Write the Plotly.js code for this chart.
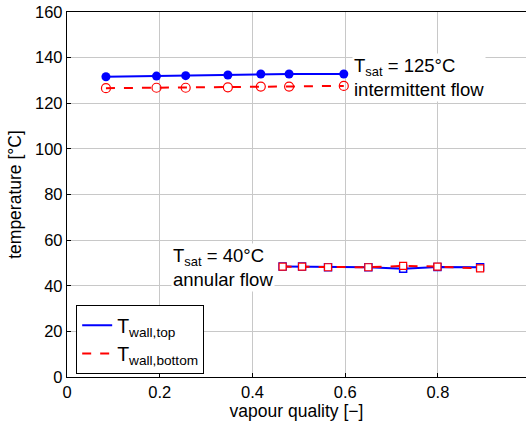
<!DOCTYPE html>
<html>
<head>
<meta charset="utf-8">
<script src="https://cdn.plot.ly/plotly-3.0.1.min.js"></script>
<style>html,body{margin:0;padding:0;background:#fff;}#chart{width:526px;height:421px;}</style>
</head>
<body>
<div id="chart"></div>
<script>
// 125°C, intermittent flow
const xHot = [0.084, 0.193, 0.256, 0.347, 0.418, 0.479, 0.597];
const topHot = [131.6, 131.9, 132.1, 132.4, 132.8, 132.8, 132.8];
const botHot = [126.6, 126.8, 126.8, 127.0, 127.3, 127.3, 127.6];
// 40°C, annular flow
const xCold = [0.465, 0.507, 0.563, 0.650, 0.725, 0.799, 0.891];
const topCold = [48.4, 48.4, 48.1, 48.1, 47.4, 48.2, 48.1];
const botCold = [48.4, 48.4, 48.1, 48.1, 48.7, 48.4, 47.6];

const xTicks = [0, 0.2, 0.4, 0.6, 0.8];
const xTickText = ['0', '0.2', '0.4', '0.6', '0.8'];
const yTicks = [0, 20, 40, 60, 80, 100, 120, 140, 160];

const FONT = 'Liberation Sans, Arial, Helvetica, sans-serif';
const blue = '#0000ff', red = '#ff0000';

const traces = [
  {x: xHot, y: topHot, mode: 'lines+markers', showlegend: false,
   line: {color: blue, width: 2}, marker: {symbol: 'circle', size: 9, color: blue}},
  {x: xHot, y: botHot, mode: 'lines+markers', showlegend: false,
   line: {color: red, width: 2, dash: 'dash'}, marker: {symbol: 'circle-open', size: 9, color: red, line: {width: 1.2}}},
  {x: xCold, y: topCold, mode: 'lines+markers', showlegend: false,
   line: {color: blue, width: 2}, marker: {symbol: 'square', size: 7, color: '#ffffff', line: {color: blue, width: 1.5}}},
  {x: xCold, y: botCold, mode: 'lines+markers', showlegend: false,
   line: {color: red, width: 2, dash: 'dash'}, marker: {symbol: 'square', size: 7, color: '#ffffff', line: {color: red, width: 1.2}}},
  {x: [null], y: [null], mode: 'lines', name: 'T<sub>wall,top</sub>', line: {color: blue, width: 2}},
  {x: [null], y: [null], mode: 'lines', name: 'T<sub>wall,bottom</sub>', line: {color: red, width: 2, dash: 'dash'}}
];

const layout = {
  width: 526, height: 421,
  margin: {l: 67, r: 0, t: 12, b: 44},
  paper_bgcolor: '#ffffff', plot_bgcolor: '#ffffff',
  font: {family: FONT, size: 16, color: '#000'},
  xaxis: {
    range: [0, 0.99], tickvals: xTicks, ticktext: xTickText,
    showgrid: true, gridcolor: '#c8c8c8', gridwidth: 1, zeroline: false,
    showline: true, linecolor: '#000', linewidth: 1.2, mirror: true,
    ticks: 'inside', ticklen: 4, tickcolor: '#000',
    tickfont: {size: 16.5},
    title: {text: 'vapour quality [\u2212]', font: {size: 17.5}, standoff: 2}
  },
  yaxis: {
    range: [0, 160], tickvals: yTicks,
    showgrid: true, gridcolor: '#c8c8c8', gridwidth: 1, zeroline: false,
    showline: true, linecolor: '#000', linewidth: 1.2,
    ticks: 'inside', ticklen: 4, tickcolor: '#000',
    tickfont: {size: 16.5},
    title: {text: 'temperature [°C]', font: {size: 17.5}, standoff: 8}
  },
  legend: {
    x: 0.02, y: 0.197, xanchor: 'left', yanchor: 'top',
    bgcolor: '#ffffff', bordercolor: '#000', borderwidth: 1,
    font: {size: 19.5}, tracegroupgap: 0, itemwidth: 30
  },
  annotations: [
    {x: 0.615, y: 131.5, xref: 'x', yref: 'y', xanchor: 'left', yanchor: 'middle', align: 'left',
     showarrow: false, bgcolor: '#ffffff', borderpad: 1,
     text: 'T<sub>sat</sub> = 125°C<br>intermittent flow', font: {size: 18.5}},
    {x: 0.225, y: 48.2, xref: 'x', yref: 'y', xanchor: 'left', yanchor: 'middle', align: 'left',
     showarrow: false, bgcolor: '#ffffff', borderpad: 1,
     text: 'T<sub>sat</sub> = 40°C<br>annular flow', font: {size: 18.5}}
  ]
};

Plotly.newPlot('chart', traces, layout, {displayModeBar: false, staticPlot: true});
</script>
</body>
</html>
